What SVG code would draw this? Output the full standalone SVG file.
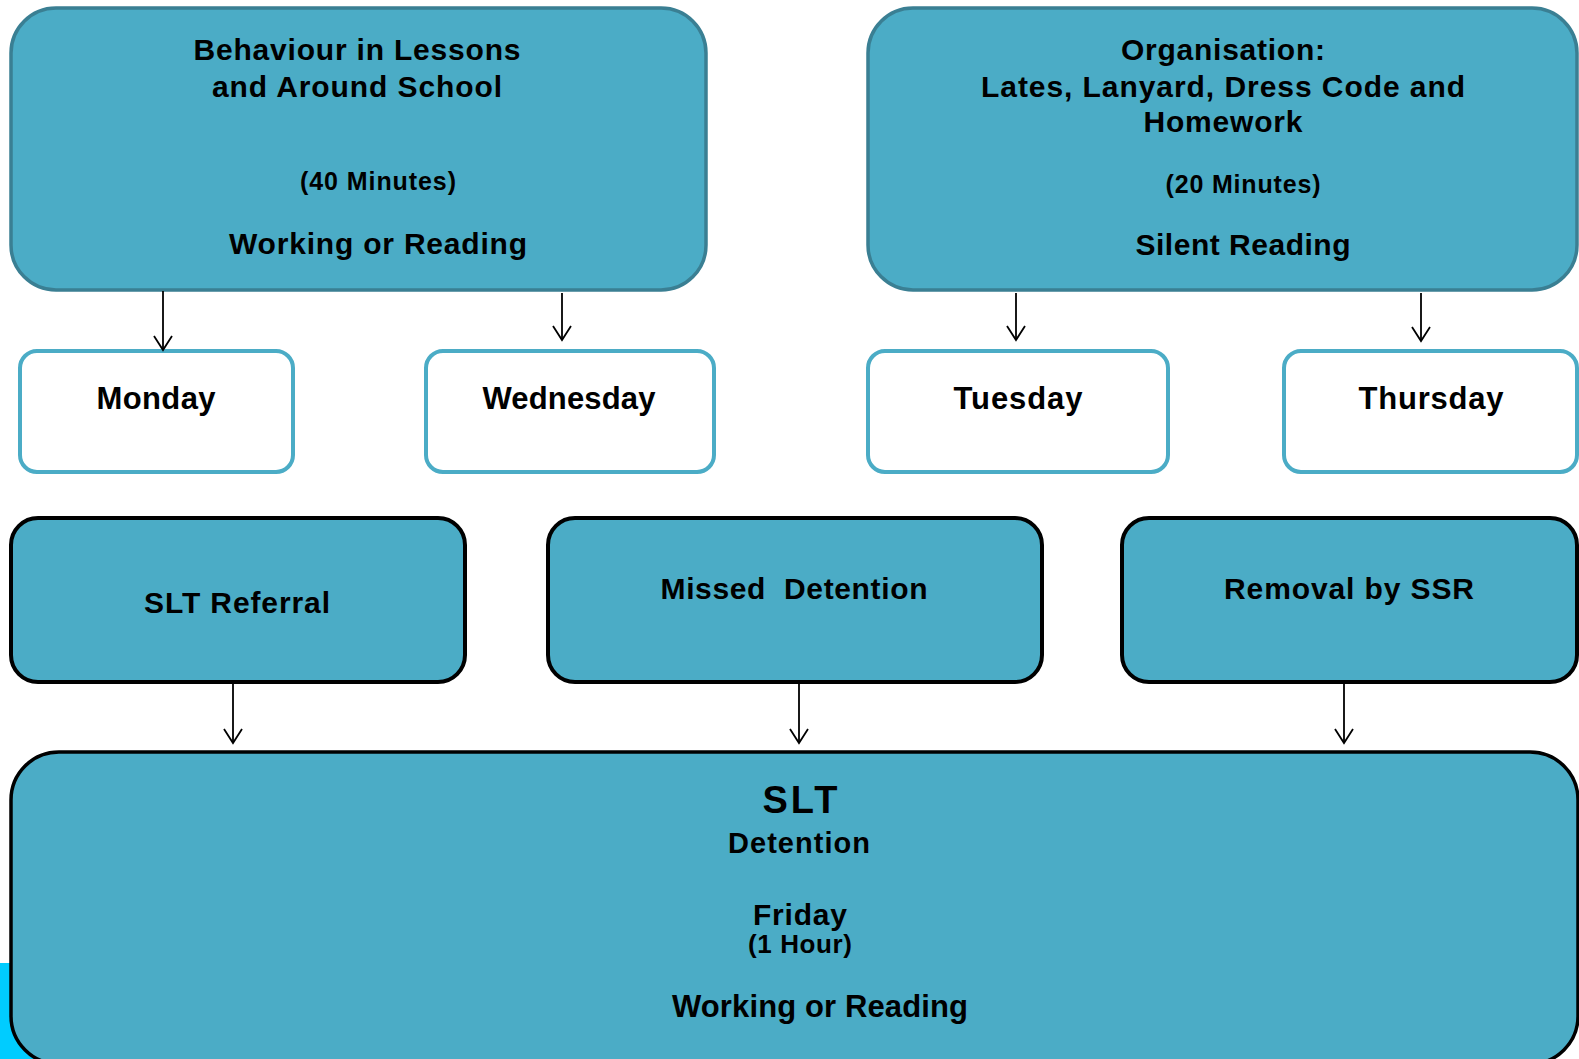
<svg xmlns="http://www.w3.org/2000/svg" width="1579" height="1059" viewBox="0 0 1579 1059">
<defs>
<style>
.top{fill:#4BACC6;stroke:#3A7F93;stroke-width:3.5}
.day{fill:#FFFFFF;stroke:#4BACC6;stroke-width:4}
.mid{fill:#4BACC6;stroke:#000000;stroke-width:4}
.bot{fill:#4BACC6;stroke:#000000;stroke-width:3.5}
text{font-family:"Liberation Sans",Arial,sans-serif;font-weight:bold;fill:#000000;text-anchor:middle}
.arr{stroke:#000000;stroke-width:1.8;fill:none;marker-end:url(#ah)}
</style>
<marker id="ah" markerUnits="userSpaceOnUse" viewBox="-16 -11 18 22" refX="0" refY="0" markerWidth="18" markerHeight="22" orient="auto" overflow="visible">
<path d="M-14,-9 L0,0 L-14,9" fill="none" stroke="#000000" stroke-width="1.8"/>
</marker>
</defs>
<rect x="0" y="0" width="1579" height="1059" fill="#FFFFFF"/>
<rect x="0" y="963" width="40" height="96" fill="#00CCFF"/>

<g id="behaviour">
<rect class="top" x="11" y="8" width="695" height="282" rx="45"/>
<text x="357" y="60" font-size="30" textLength="327" lengthAdjust="spacing">Behaviour in Lessons</text>
<text x="357" y="97" font-size="30" textLength="290" lengthAdjust="spacing">and Around School</text>
<text x="378" y="190" font-size="25" textLength="156" lengthAdjust="spacing">(40 Minutes)</text>
<text x="378" y="254" font-size="30" textLength="298" lengthAdjust="spacing">Working or Reading</text>
</g>

<g id="organisation">
<rect class="top" x="868" y="8" width="709" height="282" rx="45"/>
<text x="1223" y="60" font-size="30" textLength="204" lengthAdjust="spacing">Organisation:</text>
<text x="1223" y="97" font-size="30" textLength="484" lengthAdjust="spacing">Lates, Lanyard, Dress Code and</text>
<text x="1223" y="132" font-size="30" textLength="159" lengthAdjust="spacing">Homework</text>
<text x="1243" y="193" font-size="25" textLength="155" lengthAdjust="spacing">(20 Minutes)</text>
<text x="1243" y="255" font-size="30" textLength="215" lengthAdjust="spacing">Silent Reading</text>
</g>

<g id="monday">
<rect class="day" x="20" y="351" width="273" height="121" rx="17"/>
<text x="156" y="409" font-size="31" textLength="119" lengthAdjust="spacing">Monday</text>
</g>
<g id="wednesday">
<rect class="day" x="426" y="351" width="288" height="121" rx="17"/>
<text x="569" y="409" font-size="31" textLength="173" lengthAdjust="spacing">Wednesday</text>
</g>
<g id="tuesday">
<rect class="day" x="868" y="351" width="300" height="121" rx="17"/>
<text x="1018" y="409" font-size="31" textLength="129" lengthAdjust="spacing">Tuesday</text>
</g>
<g id="thursday">
<rect class="day" x="1284" y="351" width="293" height="121" rx="17"/>
<text x="1431" y="409" font-size="31" textLength="145" lengthAdjust="spacing">Thursday</text>
</g>

<g id="slt-referral">
<rect class="mid" x="11" y="518" width="454" height="164" rx="27"/>
<text x="237" y="613" font-size="30" textLength="186" lengthAdjust="spacing">SLT Referral</text>
</g>
<g id="missed-detention">
<rect class="mid" x="548" y="518" width="494" height="164" rx="27"/>
<text x="794" y="599" font-size="30" textLength="267" lengthAdjust="spacing" xml:space="preserve">Missed  Detention</text>
</g>
<g id="removal">
<rect class="mid" x="1122" y="518" width="455" height="164" rx="27"/>
<text x="1349" y="599" font-size="30" textLength="250" lengthAdjust="spacing">Removal by SSR</text>
</g>

<g id="slt-detention">
<rect class="bot" x="11" y="752" width="1567" height="312" rx="48"/>
<text x="800" y="813" font-size="38" textLength="75" lengthAdjust="spacing">SLT</text>
<text x="799" y="853" font-size="29" textLength="142" lengthAdjust="spacing">Detention</text>
<text x="800" y="925" font-size="30" textLength="94" lengthAdjust="spacing">Friday</text>
<text x="800" y="953" font-size="26" textLength="104" lengthAdjust="spacing">(1 Hour)</text>
<text x="820" y="1017" font-size="31" textLength="296" lengthAdjust="spacing">Working or Reading</text>
</g>

<g id="connectors">
<line class="arr" x1="163" y1="291" x2="163" y2="350"/>
<line class="arr" x1="562" y1="293" x2="562" y2="340"/>
<line class="arr" x1="1016" y1="293" x2="1016" y2="340"/>
<line class="arr" x1="1421" y1="293" x2="1421" y2="341"/>
<line class="arr" x1="233" y1="684" x2="233" y2="743"/>
<line class="arr" x1="799" y1="684" x2="799" y2="743"/>
<line class="arr" x1="1344" y1="684" x2="1344" y2="743"/>
</g>
</svg>
